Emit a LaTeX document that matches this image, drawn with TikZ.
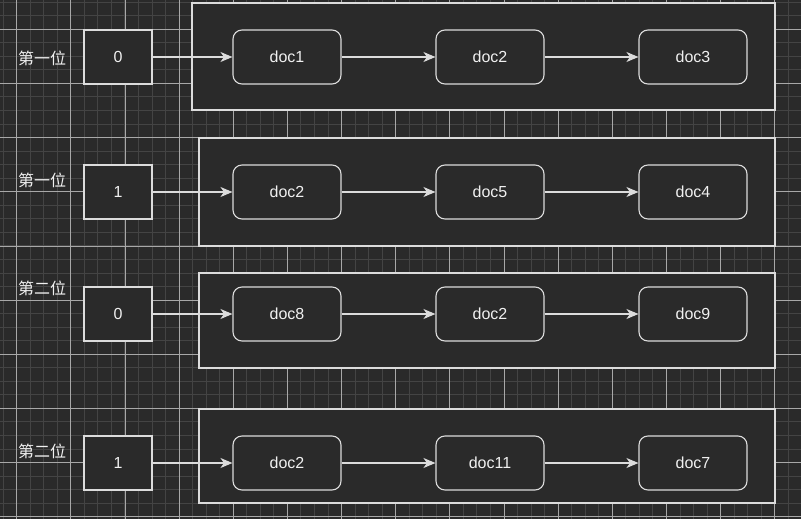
\documentclass[tikz,border=0pt]{standalone}
\usepackage{fontspec}
\setmainfont{Liberation Sans}
\newfontfamily\cjk{Noto Sans CJK SC}
\usetikzlibrary{arrows.meta}
\definecolor{bg}{HTML}{2A2A2A}
\definecolor{minorc}{HTML}{444444}
\definecolor{majorc}{HTML}{A8A8A8}
\definecolor{strokec}{HTML}{DCDCDC}
\definecolor{textc}{HTML}{F0F0F0}
\tikzset{
  minorline/.style={draw=minorc, line width=1pt},
  majorline/.style={draw=majorc, line width=0.8pt},
  container/.style={draw=strokec, fill=bg, line width=1.2pt},
  keybox/.style={draw=strokec, fill=bg, line width=1.1pt, minimum width=68pt, minimum height=54pt, inner sep=0pt, text=textc, font=\fontsize{16}{19}\selectfont},
  docbox/.style={draw=strokec, fill=bg, line width=1.1pt, rounded corners=9pt, minimum width=108pt, minimum height=54pt, inner sep=0pt, text=textc, font=\fontsize{16}{19}\selectfont},
  lbl/.style={text=textc, font=\cjk\fontsize{16}{19}\selectfont, inner sep=0pt},
  link/.style={draw=strokec, line width=1.1pt, -{Stealth[length=12pt, width=10pt, inset=3.5pt]}},
}
\begin{document}
\begin{tikzpicture}[x=1pt,y=-1pt]
\fill[bg] (0,0) rectangle (801,519);
\useasboundingbox (0,0) rectangle (801,519);
% grid
\foreach \i in {-2,...,60} {
  \pgfmathsetmacro\xx{16.6+\i*13.54}
  \draw[minorline] (\xx,0) -- (\xx,519);
}
\foreach \i in {-3,...,38} {
  \pgfmathsetmacro\yy{29.3+\i*13.54}
  \draw[minorline] (0,\yy) -- (801,\yy);
}
\foreach \i in {0,...,14} {
  \pgfmathsetmacro\xx{16.6+\i*54.16}
  \draw[majorline] (\xx,0) -- (\xx,519);
}
\foreach \i in {-1,...,9} {
  \pgfmathsetmacro\yy{29.3+\i*54.16}
  \draw[majorline] (0,\yy) -- (801,\yy);
}
% containers
\draw[container] (192,3) rectangle (775,110);
\draw[container] (199,138) rectangle (775,246);
\draw[container] (199,273) rectangle (775,368);
\draw[container] (199,409) rectangle (775,503);

% row 1
\node[lbl] (l1) at (42,58) {第一位};
\node[keybox] (k1) at (118,57) {0};
\node[docbox] (a1) at (287,57) {doc1};
\node[docbox] (a2) at (490,57) {doc2};
\node[docbox] (a3) at (693,57) {doc3};
\draw[link] (k1) -- (a1);
\draw[link] (a1) -- (a2);
\draw[link] (a2) -- (a3);

% row 2
\node[lbl] (l2) at (42,180) {第一位};
\node[keybox] (k2) at (118,192) {1};
\node[docbox] (b1) at (287,192) {doc2};
\node[docbox] (b2) at (490,192) {doc5};
\node[docbox] (b3) at (693,192) {doc4};
\draw[link] (k2) -- (b1);
\draw[link] (b1) -- (b2);
\draw[link] (b2) -- (b3);

% row 3
\node[lbl] (l3) at (42,288) {第二位};
\node[keybox] (k3) at (118,314) {0};
\node[docbox] (c1) at (287,314) {doc8};
\node[docbox] (c2) at (490,314) {doc2};
\node[docbox] (c3) at (693,314) {doc9};
\draw[link] (k3) -- (c1);
\draw[link] (c1) -- (c2);
\draw[link] (c2) -- (c3);

% row 4
\node[lbl] (l4) at (42,451) {第二位};
\node[keybox] (k4) at (118,463) {1};
\node[docbox] (d1) at (287,463) {doc2};
\node[docbox] (d2) at (490,463) {doc11};
\node[docbox] (d3) at (693,463) {doc7};
\draw[link] (k4) -- (d1);
\draw[link] (d1) -- (d2);
\draw[link] (d2) -- (d3);
\end{tikzpicture}
\end{document}
